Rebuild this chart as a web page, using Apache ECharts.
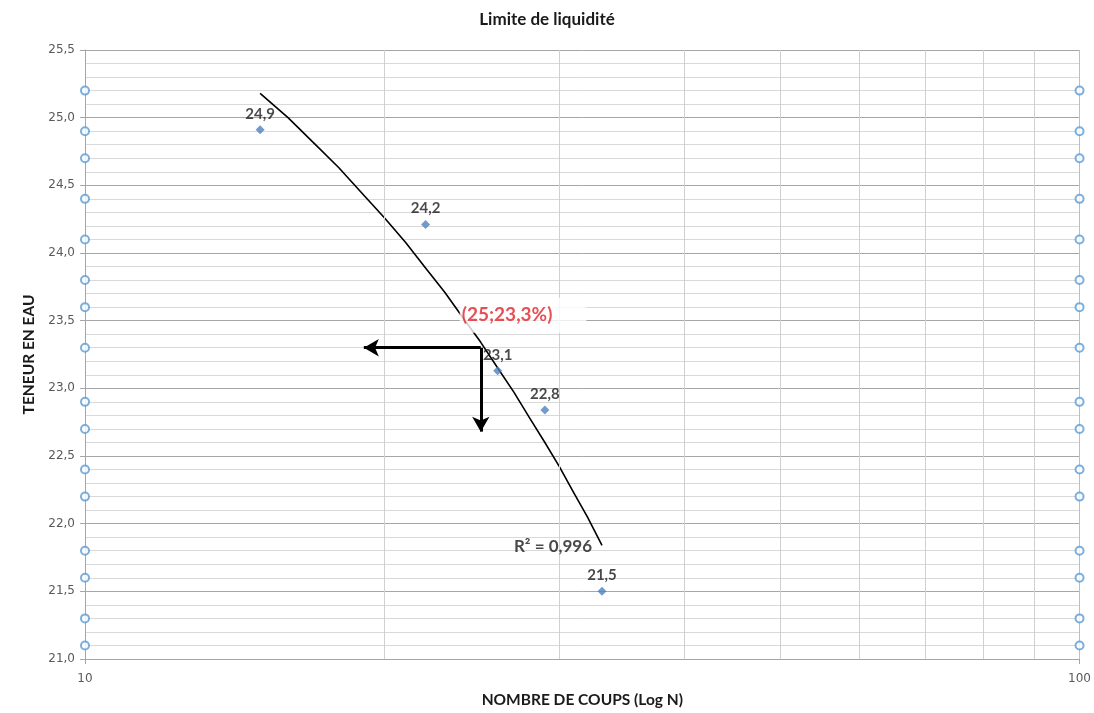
<!DOCTYPE html>
<html>
<head>
<meta charset="utf-8">
<script src="https://cdn.jsdelivr.net/npm/echarts@6/dist/echarts.min.js"></script>
<style>
html,body{margin:0;padding:0;background:#fff;overflow:hidden;}
#chart{width:1094px;height:713px;}
</style>
</head>
<body>
<div id="chart"></div>
<script>
// Measured points
const blowsN = [15, 22, 26, 29, 33.1];
const waterContent = [24.91, 24.21, 23.13, 22.84, 21.5];
// Trendline (linear in N, drawn on log axis)
const trendN = [15, 16, 17, 18, 19, 20, 21, 22, 23, 24, 25, 26, 27, 28, 29, 30, 31, 32, 33.1];
const trendY = [25.18, 25.00, 24.81, 24.63, 24.44, 24.26, 24.08, 23.89, 23.71, 23.52, 23.34, 23.15, 22.97, 22.78, 22.60, 22.42, 22.23, 22.05, 21.84];
// Hollow edge markers at x = 10 and x = 100
const edgeY = [25.2, 24.9, 24.7, 24.4, 24.1, 23.8, 23.6, 23.3, 22.9, 22.7, 22.4, 22.2, 21.8, 21.6, 21.3, 21.1];
const edgeX = [10, 100];
// Vertical log gridlines
const xGridValues = [20, 30, 40, 50, 60, 70, 80, 90];
// Liquid limit annotation
const llPoint = [25, 23.3];
const llLabel = '(25;23,3%)';
const r2Label = 'R² = 0,996';

const FONT = 'Lato, "Open Sans", sans-serif';
const TICKFONT = '"DejaVu Sans", sans-serif';

const chart = echarts.init(document.getElementById('chart'), null, {renderer: 'canvas'});

const edgeData = [];
edgeX.forEach(x => edgeY.forEach(y => edgeData.push([x, y])));

const fmtComma = v => v.toFixed(1).replace('.', ',');

const option = {
  backgroundColor: '#ffffff',
  animation: false,
  title: {
    text: 'Limite de liquidité',
    left: 'center',
    top: 6,
    textStyle: {fontFamily: FONT, fontSize: 17, fontWeight: 'bold', color: '#1a1a1a'}
  },
  grid: {left: 85, right: 10, top: 50, bottom: 50, containLabel: false},
  xAxis: {
    type: 'log',
    logBase: 10,
    min: 10,
    max: 100,
    name: 'NOMBRE DE COUPS (Log N)',
    nameLocation: 'middle',
    nameGap: 33,
    nameTextStyle: {fontFamily: FONT, fontSize: 15.5, fontWeight: 'bold', color: '#1a1a1a'},
    axisLine: {show: true, lineStyle: {color: '#a6a6a6', width: 1}},
    axisTick: {show: true, length: 5, lineStyle: {color: '#a6a6a6'}},
    axisLabel: {fontFamily: TICKFONT, fontSize: 12, color: '#595959', margin: 14, formatter: v => String(Math.round(v))},
    splitLine: {show: true, lineStyle: {color: '#bfbfbf', width: 1}}
  },
  yAxis: {
    type: 'value',
    min: 21,
    max: 25.5,
    interval: 0.5,
    name: 'TENEUR EN EAU',
    nameLocation: 'middle',
    nameGap: 47,
    nameRotate: 90,
    nameTextStyle: {fontFamily: FONT, fontSize: 15.5, fontWeight: 'bold', color: '#1a1a1a'},
    axisLine: {show: true, lineStyle: {color: '#a6a6a6', width: 1}},
    axisTick: {show: true, length: 5, lineStyle: {color: '#a6a6a6'}},
    axisLabel: {fontFamily: TICKFONT, fontSize: 12, color: '#595959', margin: 10, formatter: fmtComma},
    splitLine: {show: true, lineStyle: {color: '#a6a6a6', width: 1}},
    minorTick: {show: false, splitNumber: 5},
    minorSplitLine: {show: true, lineStyle: {color: '#d9d9d9', width: 1}}
  },
  series: [
    {
      name: 'gridX',
      type: 'line',
      data: [],
      silent: true,
      z: 1,
      markLine: {
        silent: true,
        symbol: ['none', 'none'],
        label: {show: false},
        lineStyle: {color: '#d0d0d0', width: 1, type: 'solid'},
        data: xGridValues.map(v => ({xAxis: v}))
      }
    },
    {
      name: 'edges',
      type: 'scatter',
      data: edgeData,
      symbol: 'circle',
      symbolSize: 8,
      itemStyle: {color: '#ffffff', borderColor: '#5b9bd5', borderWidth: 2},
      z: 3
    },
    {
      name: 'trend',
      type: 'line',
      data: trendN.map((n, i) => [n, trendY[i]]),
      showSymbol: false,
      smooth: false,
      lineStyle: {color: '#000000', width: 1.6, join: 'round'},
      z: 4
    },
    {
      name: 'mesures',
      type: 'scatter',
      data: blowsN.map((n, i) => [n, waterContent[i]]),
      symbol: 'diamond',
      symbolSize: 9,
      itemStyle: {color: '#4f81bd'},
      label: {
        show: true,
        position: 'top',
        distance: 4,
        fontFamily: FONT,
        fontSize: 15,
        fontWeight: 'bold',
        color: '#1a1a1a',
        formatter: p => fmtComma(p.value[1])
      },
      z: 5
    },
    {
      name: 'arrows',
      type: 'line',
      data: [],
      z: 6,
      markLine: {
        silent: true,
        symbol: ['none', 'arrow'],
        symbolSize: [13, 15],
        label: {show: false},
        lineStyle: {color: '#000000', width: 3, type: 'solid'},
        data: [
          [{coord: llPoint}, {coord: [19.07, llPoint[1]]}],
          [{coord: llPoint}, {coord: [llPoint[0], 22.68]}]
        ]
      }
    },
    {
      name: 'llLabel',
      type: 'scatter',
      data: [[27.57, 23.54]],
      symbolSize: 1,
      itemStyle: {color: 'rgba(0,0,0,0)'},
      label: {
        show: true,
        position: 'inside',
        formatter: llLabel,
        fontFamily: FONT,
        fontSize: 19,
        fontWeight: 'bold',
        color: '#e0242c',
        backgroundColor: '#ffffff',
        padding: [8, 34, 8, 2]
      },
      z: 7
    },
    {
      name: 'r2',
      type: 'scatter',
      data: [[29.55, 21.83]],
      symbolSize: 1,
      itemStyle: {color: 'rgba(0,0,0,0)'},
      label: {
        show: true,
        position: 'inside',
        formatter: r2Label,
        fontFamily: FONT,
        fontSize: 17,
        fontWeight: 'bold',
        color: '#1a1a1a'
      },
      z: 7
    }
  ]
};
chart.setOption(option);
</script>
</body>
</html>
